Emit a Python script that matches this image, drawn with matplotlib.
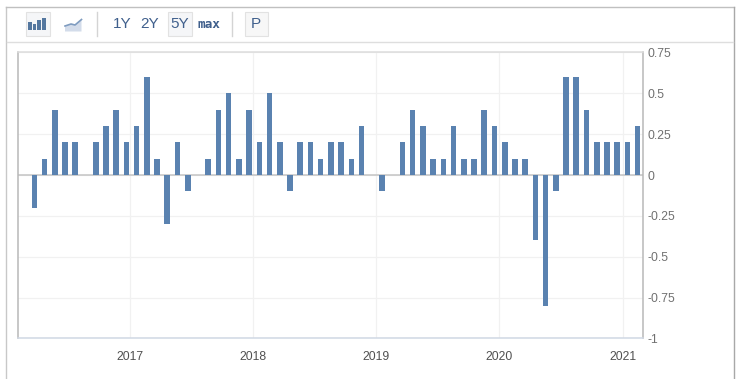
import matplotlib
matplotlib.use("Agg")
import matplotlib.pyplot as plt
from matplotlib.patches import Rectangle
from matplotlib.lines import Line2D
import pandas as pd

plt.rcParams['font.family'] = ['Liberation Sans', 'DejaVu Sans']

W, H = 743, 379

months = pd.date_range('2016-03-25', '2021-02-14', periods=60)
values = [-0.2, 0.1, 0.4, 0.2, 0.2, 0.0, 0.2, 0.3, 0.4, 0.2,
          0.3, 0.6, 0.1, -0.3, 0.2, -0.1, 0.0, 0.1, 0.4, 0.5,
          0.1, 0.4, 0.2, 0.5, 0.2, -0.1, 0.2, 0.2, 0.1, 0.2,
          0.2, 0.1, 0.3, 0.0, -0.1, 0.0, 0.2, 0.4, 0.3, 0.1,
          0.1, 0.3, 0.1, 0.1, 0.4, 0.3, 0.2, 0.1, 0.1, -0.4,
          -0.8, -0.1, 0.6, 0.6, 0.4, 0.2, 0.2, 0.2, 0.2, 0.3]
year_ticks = pd.to_datetime(['2017-01-01', '2018-01-01', '2019-01-01', '2020-01-01', '2021-01-01'])
year_labels = ['2017', '2018', '2019', '2020', '2021']
y_ticks = [0.75, 0.5, 0.25, 0, -0.25, -0.5, -0.75, -1]
y_labels = ['0.75', '0.5', '0.25', '0', '-0.25', '-0.5', '-0.75', '-1']
x_start, x_end = pd.Timestamp('2016-02-04'), pd.Timestamp('2021-03-01')

BLUE = '#5a82b0'

fig = plt.figure(figsize=(W / 100, H / 100), dpi=100, facecolor='white')

L, R, T, B = 17.5, 642.7, 52.5, 338.4
ax = fig.add_axes([L / W, 1 - B / H, (R - L) / W, (B - T) / H])
ax.bar(months, values, width=16.6, color=BLUE, linewidth=0, zorder=3)
ax.set_xlim(x_start, x_end)
ax.set_ylim(-1, 0.75)
ax.axhline(0, color='#c4c4c4', lw=1.1, zorder=2)

ax.yaxis.tick_right()
ax.set_yticks(y_ticks, y_labels)
ax.set_xticks(year_ticks, year_labels)
ax.tick_params(axis='y', length=0, pad=3.4, labelsize=8.7, labelcolor='#707070')
ax.tick_params(axis='x', length=0, pad=9, labelsize=8.7, labelcolor='#505050')
ax.grid(True, color='#f1f1f1', lw=0.9, zorder=0)
ax.set_axisbelow(True)
ax.spines['left'].set_color('#b8b8b8')
ax.spines['right'].set_color('#b8b8b8')
ax.spines['top'].set_color('#dcdcdc')
ax.spines['bottom'].set_color('#d0d8e4')
for s in ax.spines.values():
    s.set_linewidth(1.1)


def fline(xs, ys, color, lw=1.0):
    fig.add_artist(Line2D([x / W for x in xs], [1 - y / H for y in ys], color=color, lw=lw,
                          transform=fig.transFigure))


def frect(x, y, w, h, fc, ec='none', lw=0.8):
    fig.add_artist(Rectangle((x / W, 1 - (y + h) / H), w / W, h / H, fc=fc, ec=ec, lw=lw,
                             transform=fig.transFigure))


def ftext(x, y, s, **kw):
    fig.text(x / W, 1 - y / H, s, ha='center', va='center', **kw)


# outer frame
fline([6, 6], [6.5, H], '#c8c8c8', 1.0)
fline([6, 733.5], [6.5, 6.5], '#c0c0c0', 1.0)
fline([733.5, 733.5], [6.5, H], '#a8a8a8', 1.0)
fline([7, 733], [41.5, 41.5], '#dedede', 1.0)

# toolbar buttons
frect(25.5, 12.5, 24, 23.5, '#f5f6f8', '#e2e2e2')
frect(167.5, 12.5, 24, 23.5, '#f5f6f8', '#e2e2e2')
frect(245, 12.5, 22.5, 23.5, '#f7f7f7', '#e2e2e2')
fline([96.5, 96.5], [12, 36], '#d4d4d4', 1.0)
fline([231.5, 231.5], [12, 36], '#d4d4d4', 1.0)

# bar icon
for x, top in [(28.3, 22), (32.8, 24), (37.4, 20), (42.4, 18.5)]:
    frect(x, top, 3.3, 30 - top, '#54779f')

# area icon
fig.add_artist(plt.Polygon([(65 / W, 1 - 31.5 / H), (65 / W, 1 - 26 / H), (71 / W, 1 - 24 / H),
                            (75 / W, 1 - 25 / H), (81.5 / W, 1 - 19.5 / H), (81.5 / W, 1 - 31.5 / H)],
                           fc='#d3dcea', ec='none', transform=fig.transFigure))
fline([65, 71, 75, 81.5], [26, 24, 25, 19.5], '#7f9cc0', 1.2)

TXT = '#3f5f8c'
ftext(122, 24, '1Y', fontsize=11, color=TXT)
ftext(150, 24, '2Y', fontsize=11, color=TXT)
ftext(179.5, 24, '5Y', fontsize=11, color=TXT)
ftext(208.5, 24.5, 'max', fontsize=9.2, color=TXT, family='DejaVu Sans Mono', fontweight='bold')
ftext(255.5, 24, 'P', fontsize=11, color=TXT)

fig.savefig('out.png', dpi=100)
